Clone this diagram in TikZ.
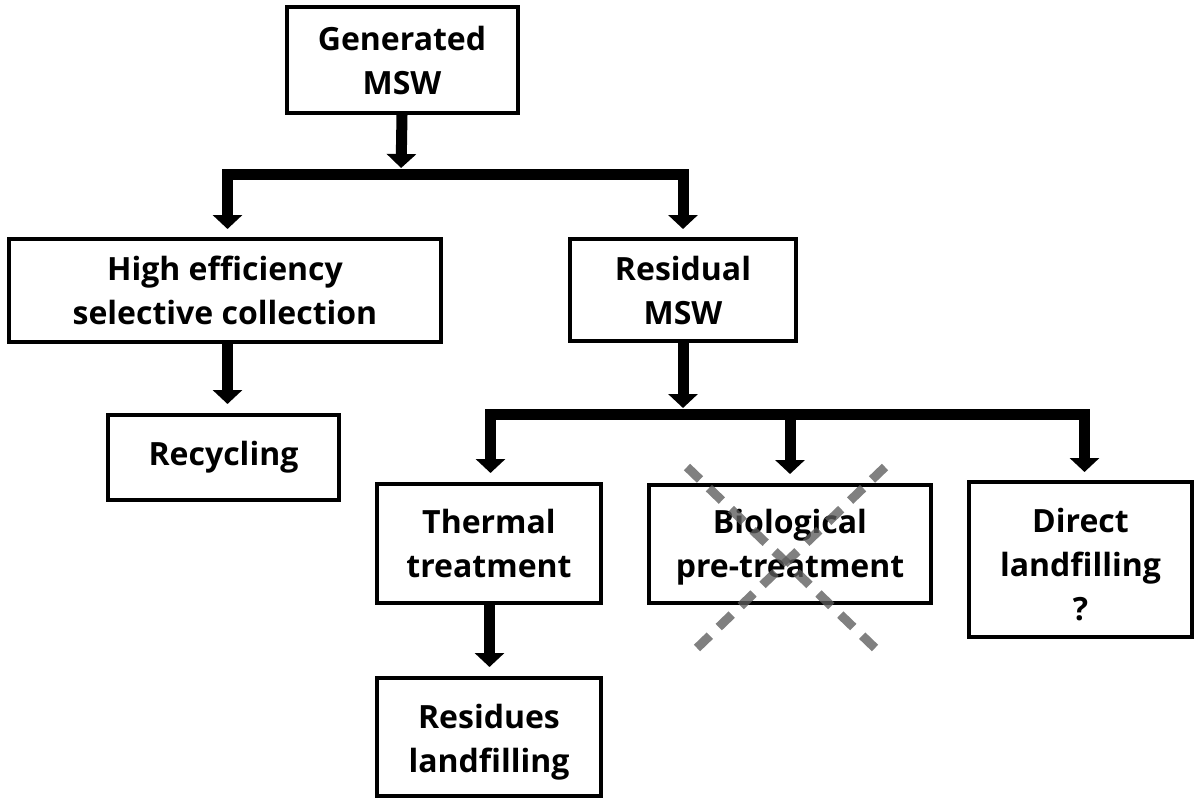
\documentclass[tikz,border=0pt]{standalone}
\usepackage{fontspec}
\setmainfont{Open Sans}
\usetikzlibrary{arrows.meta}
\begin{document}
\begin{tikzpicture}[x=1pt,y=-1pt,
  boxtext/.style={inner sep=0pt, align=center,
    font=\bfseries\fontsize{32}{44}\selectfont},
  box/.style={boxtext, draw=black, line width=4pt, rectangle},
  flow/.style={line width=11pt, line join=miter,
    -{Triangle[width=29pt,length=14pt]}},
  crossline/.style={line width=9pt, draw=black!64, draw opacity=0.78,
    dash pattern=on 18pt off 12.4pt}]
\useasboundingbox (0,0) rectangle (1194,798);

% boxes
\node[box, minimum width=231pt, minimum height=106pt] (gen) at (402,60) {Generated\\MSW};
\node[box, minimum width=432pt, minimum height=103pt] (he) at (225,290.5) {High efficiency\\selective collection};
\node[box, minimum width=226pt, minimum height=102pt] (res) at (683,290) {Residual\\MSW};
\node[box, minimum width=231pt, minimum height=85pt] (rec) at (223.5,457.5) {Recycling};
\node[box, minimum width=224pt, minimum height=119pt] (therm) at (489,543.5) {Thermal\\treatment};
\node[box, minimum width=282pt, minimum height=118pt] (bio) at (790,544) {};
\node[boxtext] (biotext) at ([yshift=-3pt]bio.center) {Biological\\pre-treatment};
\node[box, minimum width=223pt, minimum height=155pt] (direct) at (1080.5,559.5) {};
\node[boxtext] (directtext) at ([yshift=-5pt]direct.center) {Direct\\landfilling\\?};
\node[box, minimum width=224pt, minimum height=118pt] (resid) at (489,737) {};
\node[boxtext] (residtext) at ([yshift=-5pt]resid.center) {Residues\\landfilling};

% junction bars
\coordinate (b1) at (401,174);
\coordinate (b2) at (683,414);

% connectors
\draw[flow, shorten >=6pt] (gen.south) -- (b1);
\draw[flow, shorten >=8pt] (b1) -| ([xshift=2.5pt]he.north);
\draw[flow, shorten >=8pt] (b1) -| (res.north);
\draw[flow, shorten >=9pt] ([xshift=2.5pt]he.south) -- ([xshift=4pt]rec.north);
\draw[flow, shorten >=6pt] (res.south) -- (b2);
\draw[flow, shorten >=9pt] (b2) -| ([xshift=1.5pt]therm.north);
\draw[flow, shorten >=9pt] (b2) -| (bio.north);
\draw[flow, shorten >=8pt] (b2) -| ([xshift=4pt]direct.north);
\draw[flow, shorten >=9pt] ([xshift=0.5pt]therm.south) -- ([xshift=0.5pt]resid.north);

% crossed-out step
\coordinate (c1) at (687,467);
\coordinate (c2) at (875,648);
\coordinate (c3) at (885,467);
\coordinate (c4) at (697,648);
\draw[crossline] (c1) -- (c2);
\draw[crossline] (c3) -- (c4);
\end{tikzpicture}
\end{document}
